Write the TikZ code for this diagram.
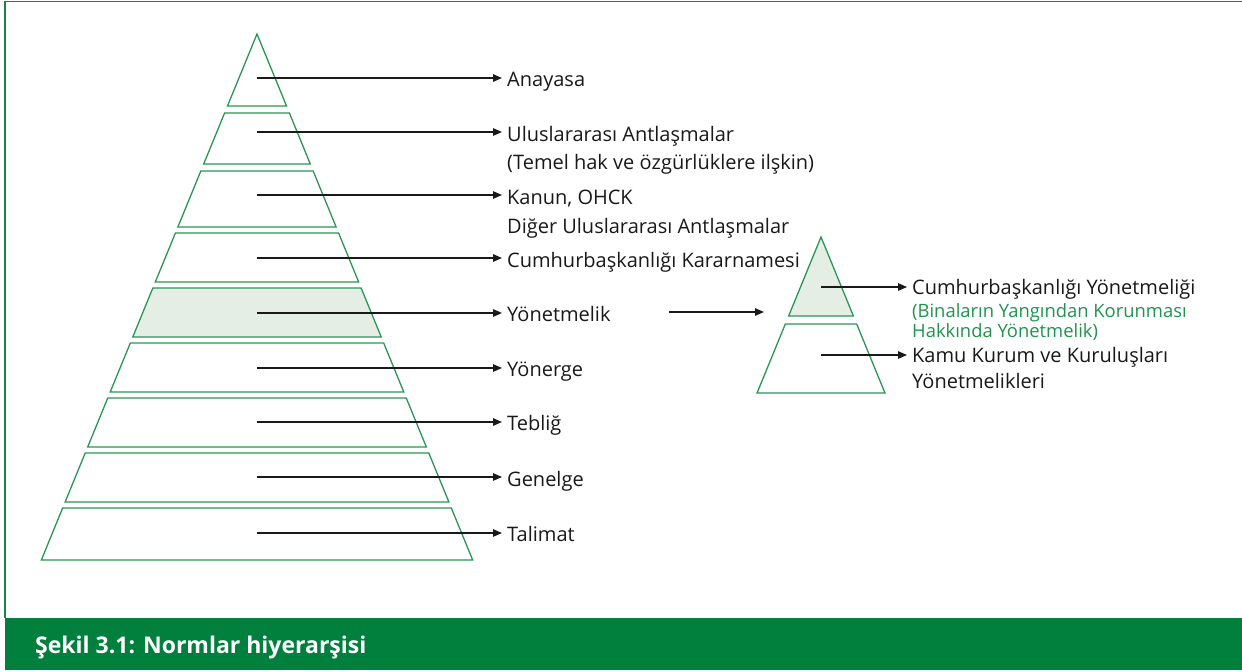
\documentclass[tikz,border=0pt]{standalone}
\usepackage{fontspec}
\setmainfont{Open Sans}
\usetikzlibrary{arrows.meta}
\definecolor{framegreen}{HTML}{1A8446}
\definecolor{strokegreen}{HTML}{2A9556}
\definecolor{bandfill}{HTML}{E5EEE5}
\definecolor{bargreen}{HTML}{007F3D}
\definecolor{textgreen}{HTML}{21934F}
\newcommand\pyrband[5]{%
  \pgfmathsetmacro\wa{0.41*(#3-#2)}%
  \pgfmathsetmacro\wb{0.41*(#4-#2)}%
  \filldraw[band,fill=#5] ({#1-\wa},#3) -- ({#1+\wa},#3) -- ({#1+\wb},#4) -- ({#1-\wb},#4) -- cycle;}
\begin{document}
\begin{tikzpicture}[x=1pt,y=-1pt,
  band/.style={draw=strokegreen,line width=1.3pt,line join=miter},
  arr/.style={draw=black!90,line width=1.2pt,-{Triangle[length=9pt,width=7.5pt]}},
  lbl/.style={anchor=base west,inner xsep=5pt,inner ysep=0pt,font=\fontsize{20}{24}\selectfont,text=black!90},
  glbl/.style={lbl,font=\fontsize{18.4}{22}\selectfont,text=textgreen},
  captext/.style={anchor=base west,inner sep=0pt,font=\fontsize{23}{27}\selectfont\bfseries,text=white}]
\useasboundingbox (0,0) rectangle (1242,670);
% frame and caption bar
\fill[bargreen] (5,618) rectangle (1242,670);
\draw[framegreen,line width=1.5pt] (5,618) -- (5,1.5) -- (1242,1.5);
\node[captext] (caption) at (35,653) {Şekil 3.1: Normlar hiyerarşisi};
% main pyramid
\pyrband{257}{34}{34}{106}{white}
\pyrband{257}{34}{113}{164}{white}
\pyrband{257}{34}{171}{227}{white}
\pyrband{257}{34}{233}{282}{white}
\pyrband{257}{34}{288}{337}{bandfill}
\pyrband{257}{34}{343}{392}{white}
\pyrband{257}{34}{398}{447}{white}
\pyrband{257}{34}{453}{502}{white}
\pyrband{257}{34}{508}{560}{white}
% small pyramid
\pyrband{821}{237}{237}{316}{bandfill}
\pyrband{821}{237}{324}{393}{white}
% anchors
\coordinate (a1) at (257,78);
\coordinate (a2) at (257,132);
\coordinate (a3) at (257,195);
\coordinate (a4) at (257,258);
\coordinate (a5) at (257,313);
\coordinate (a6) at (257,368);
\coordinate (a7) at (257,422);
\coordinate (a8) at (257,477);
\coordinate (a9) at (257,533);
\coordinate (r1) at (821,287);
\coordinate (r2) at (821,355);
\coordinate (m1) at (669,312);
\coordinate (m2) at (764,312);
% labels
\node[lbl] (t1) at (502,86.5) {Anayasa};
\node[lbl] (t2) at (502,141) {Uluslararası Antlaşmalar};
\node[lbl] (t2b) at (502,169.5) {(Temel hak ve özgürlüklere ilşkin)};
\node[lbl] (t3) at (502,204) {Kanun, OHCK};
\node[lbl] (t3b) at (502,233) {Diğer Uluslararası Antlaşmalar};
\node[lbl] (t4) at (502,267) {Cumhurbaşkanlığı Kararnamesi};
\node[lbl] (t5) at (502,321.5) {Yönetmelik};
\node[lbl] (t6) at (502,376.5) {Yönerge};
\node[lbl] (t7) at (502,430.5) {Tebliğ};
\node[lbl] (t8) at (502,486) {Genelge};
\node[lbl] (t9) at (502,541.5) {Talimat};
\node[lbl] (s1) at (907,294.5) {Cumhurbaşkanlığı Yönetmeliği};
\node[glbl] (s1b) at (907,317) {(Binaların Yangından Korunması};
\node[glbl] (s1c) at (907,337) {Hakkında Yönetmelik)};
\node[lbl] (s2) at (907,362.5) {Kamu Kurum ve Kuruluşları};
\node[lbl] (s2b) at (907,388) {Yönetmelikleri};
% connectors
\foreach \i in {1,...,9}{\draw[arr] (a\i) -- (a\i -| t\i.west);}
\draw[arr] (r1) -- (r1 -| s1.west);
\draw[arr] (r2) -- (r2 -| s2.west);
\draw[arr] (m1) -- (m2);
\end{tikzpicture}
\end{document}
